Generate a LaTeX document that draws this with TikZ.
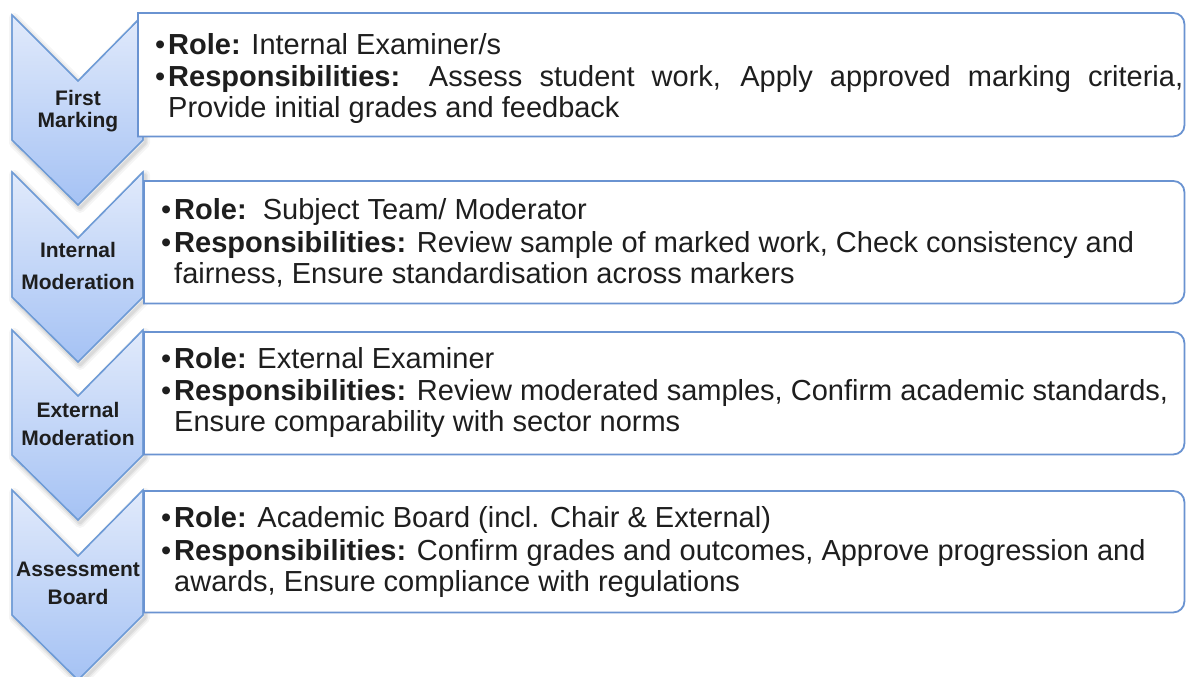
\documentclass[tikz,border=0pt]{standalone}
\usepackage{fontspec}
\setmainfont{Liberation Sans}
\definecolor{chevtop}{HTML}{E1EAFB}
\definecolor{chevbot}{HTML}{A5C2F4}
\definecolor{chevline}{HTML}{6E9BD6}
\definecolor{boxline}{HTML}{6A93D1}
\definecolor{ink}{HTML}{1E1E1E}
% one downward chevron whose top corners sit at height #1
\newcommand\chevpath[1]{(12,#1) -- (78,{#1+66}) -- (143,#1) -- (143,{#1+125}) -- (78,{#1+190}) -- (12,{#1+125}) -- cycle}
% frame with square left corners and rounded right corners around node #1
\newcommand\rframe[1]{%
  \filldraw[frame] (#1.north west) -- ([xshift=-11pt]#1.north east)
    arc[start angle=90,end angle=0,radius=11pt] -- ([yshift=11pt]#1.south east)
    arc[start angle=0,end angle=-90,radius=11pt] -- (#1.south west) -- cycle;}
\newcommand\bul{\makebox[13pt][l]{•}}
\newcommand\ind{\hspace*{13pt}}
\begin{document}
\begin{tikzpicture}[x=1pt,y=-1pt,
  chevron/.style={top color=chevtop, bottom color=chevbot, draw=chevline, line width=1.3pt, line join=miter},
  glow/.style={draw=black, line join=round, opacity=#1},
  frame/.style={fill=white, draw=boxline, line width=1.8pt},
  slot/.style={rectangle, inner sep=0pt, anchor=north west},
  txt/.style={inner sep=0pt, anchor=west, align=left, text=ink, font=\fontsize{29}{30.5}\selectfont},
  stage/.style={inner sep=0pt, align=center, text=ink, font=\bfseries\fontsize{21}{#1}\selectfont}]
\useasboundingbox (0,0) rectangle (1186,677);
\fill[white] (0,0) rectangle (1186,677);

% chevrons with a soft shadow
\foreach \t in {15,172,330,490}{
  \begin{scope}[xshift=2pt,yshift=-3pt]
    \draw[glow=0.04, line width=10pt] \chevpath{\t};
    \draw[glow=0.05, line width=6pt] \chevpath{\t};
    \draw[glow=0.06, line width=3pt] \chevpath{\t};
  \end{scope}
  \shade[chevron] \chevpath{\t};
  \draw[chevline, line width=1.3pt, line join=miter] \chevpath{\t};
}

\node[stage=22] (s1) at (78,111) {First\\Marking};
\node[stage=32] (s2) at (78,266) {Internal\\Moderation};
\node[stage=28] (s3) at (78,424) {External\\Moderation};
\node[stage=28] (s4) at (78,583) {Assessment\\Board};

% text frames
\node[slot, minimum width=1046pt, minimum height=123pt] (b1) at (138,13) {};
\node[slot, minimum width=1040pt, minimum height=122pt] (b2) at (144,181) {};
\node[slot, minimum width=1040pt, minimum height=122pt] (b3) at (144,332) {};
\node[slot, minimum width=1040pt, minimum height=121pt] (b4) at (144,491) {};
\rframe{b1}\rframe{b2}\rframe{b3}\rframe{b4}

\node[txt] (t1) at ([xshift=17pt,yshift=-3.5pt]b1.west)
  {\bul\textbf{Role:} Internal Examiner/s\\[2pt]
   \bul\makebox[1015pt][s]{\textbf{Responsibilities:} Assess student work, Apply approved marking criteria,}\\
   \ind Provide initial grades and feedback};
\node[txt] (t2) at ([xshift=17pt,yshift=-0.5pt]b2.west)
  {\bul\textbf{Role:}\ \ Subject Team/ Moderator\\[3pt]
   \bul\textbf{Responsibilities:} Review sample of marked work, Check consistency and\\
   \ind fairness, Ensure standardisation across markers};
\node[txt] (t3) at ([xshift=17pt,yshift=1pt]b3.west)
  {\bul\textbf{Role:} External Examiner\\[2pt]
   \bul\textbf{Responsibilities:} Review moderated samples, Confirm academic standards,\\
   \ind Ensure comparability with sector norms};
\node[txt] (t4) at ([xshift=17pt,yshift=-0.5pt]b4.west)
  {\bul\textbf{Role:} Academic Board (incl. Chair \& External)\\[2.5pt]
   \bul\textbf{Responsibilities:} Confirm grades and outcomes, Approve progression and\\
   \ind awards, Ensure compliance with regulations};
\end{tikzpicture}
\end{document}
